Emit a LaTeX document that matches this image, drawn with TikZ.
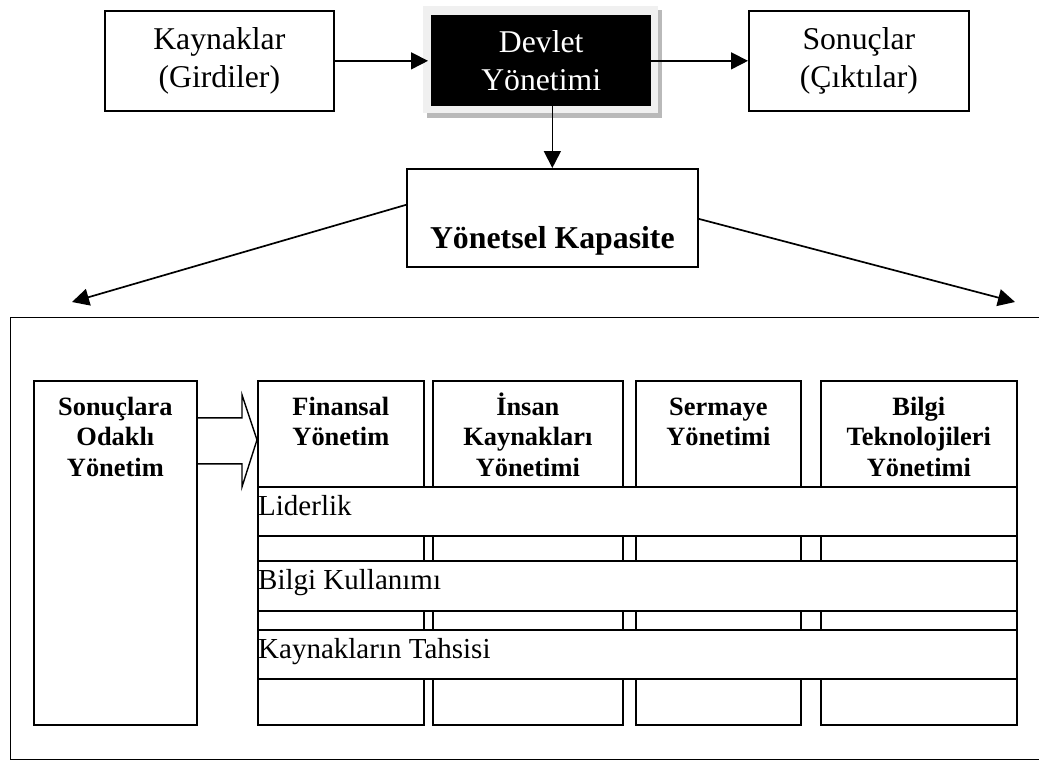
\documentclass[tikz,border=0pt]{standalone}
\usepackage{fontspec}
\setmainfont{Liberation Serif}
\usetikzlibrary{arrows.meta,calc}
\begin{document}
\begin{tikzpicture}[x=1pt,y=-1pt,
  box/.style={draw=black, line width=1.7pt, fill=white, inner sep=0pt},
  toptext/.style={font=\fontsize{31.7}{37.5}\selectfont, align=center},
  hdr/.style={font=\fontsize{26.4}{30.5}\selectfont\bfseries, align=center, inner sep=0pt, anchor=north},
  bandtext/.style={font=\fontsize{29}{34}\selectfont, inner sep=0pt, anchor=base west},
  arr/.style={line width=1.7pt, -{Triangle[length=17pt,width=17pt]}},
  hollow/.style={line width=1.4pt, line join=miter}
]
\useasboundingbox (0,0) rectangle (1039,760);
\clip (0,0) rectangle (1039,760);

% outer frame
\node[box, line width=1.4pt, fill=none, minimum width=1040pt, minimum height=442pt, anchor=north west] (frame) at (10,317) {};

% top row
\node[box, toptext, minimum width=229pt, minimum height=100pt, anchor=north west] (kay) at (104,10) {Kaynaklar\\(Girdiler)};

\fill[gray!12] (423,6) rectangle (658,113);
\fill[gray!55] (427,113) rectangle (662,118);
\fill[gray!55] (658,10) rectangle (662,118);
\node[fill=black, text=white, toptext, inner sep=0pt, minimum width=220pt, minimum height=91pt, anchor=north west] (dev) at (431,15) {Devlet\\Yönetimi};

\node[box, toptext, minimum width=220pt, minimum height=100pt, anchor=north west] (sonc) at (748,10) {Sonuçlar\\(Çıktılar)};

\node[box, minimum width=291pt, minimum height=98pt, anchor=north west] (ykap) at (406,168) {};
\node[font=\fontsize{31.8}{38}\selectfont\bfseries, inner sep=0pt, anchor=base] (ykapt) at ($(ykap.south)+(0,-19)$) {Yönetsel Kapasite};

% connectors
\draw[arr, shorten >=3pt] (kay.east) -- (kay.east -| dev.west);
\draw[arr] (sonc.west -| dev.east) -- (sonc.west);
\draw[arr] (dev.south -| ykap.north) -- (ykap.north);
\coordinate (lt) at (72,302);
\coordinate (rt) at (1015,302);
\draw[arr] ($(ykap.west)+(0,-13)$) -- (lt);
\draw[arr] ($(ykap.east)+(0,1)$) -- (rt);

% lower part
\node[box, minimum width=163pt, minimum height=344pt, anchor=north west] (soz) at (33,380) {};
\node[hdr] (sozt) at ($(soz.north)+(0,10)$) {\rule{0pt}{25pt}Sonuçlara\\Odaklı\\Yönetim};

\node[box, minimum width=166pt, minimum height=344pt, anchor=north west] (fin) at (257,380) {};
\node[box, minimum width=190pt, minimum height=344pt, anchor=north west] (ins) at (432,380) {};
\node[box, minimum width=165pt, minimum height=344pt, anchor=north west] (ser) at (635,380) {};
\node[box, minimum width=196pt, minimum height=344pt, anchor=north west] (bil) at (820,380) {};

\node[hdr] (fint) at ($(fin.north)+(0,10)$) {\rule{0pt}{25pt}Finansal\\Yönetim};
\node[hdr] (inst) at ($(ins.north)+(0,10)$) {\rule{0pt}{25pt}İnsan\\Kaynakları\\Yönetimi};
\node[hdr] (sert) at ($(ser.north)+(0,10)$) {\rule{0pt}{25pt}Sermaye\\Yönetimi};
\node[hdr] (bilt) at ($(bil.north)+(0,10)$) {\rule{0pt}{25pt}Bilgi\\Teknolojileri\\Yönetimi};

\node[box, minimum width=759pt, minimum height=49pt, anchor=north west] (lid) at (257,486) {};
\node[box, minimum width=759pt, minimum height=50pt, anchor=north west] (bku) at (257,560) {};
\node[box, minimum width=759pt, minimum height=49pt, anchor=north west] (kta) at (257,629) {};
\node[bandtext] (lidt) at ($(lid.north west)+(1,29)$) {Liderlik};
\node[bandtext] (bkut) at ($(bku.north west)+(1,29)$) {Bilgi Kullanımı};
\node[bandtext] (ktat) at ($(kta.north west)+(1,29)$) {Kaynakların Tahsisi};

% hollow arrow
\draw[hollow] ($(soz.east)+(0,-135)$) -- ($(fin.west)+(-15,-135)$) -- ($(fin.west)+(-15,-158)$)
  -- ($(fin.west)+(0,-113)$) -- ($(fin.west)+(-15,-66)$) -- ($(fin.west)+(-15,-89)$) -- ($(soz.east)+(0,-89)$);
\end{tikzpicture}
\end{document}
